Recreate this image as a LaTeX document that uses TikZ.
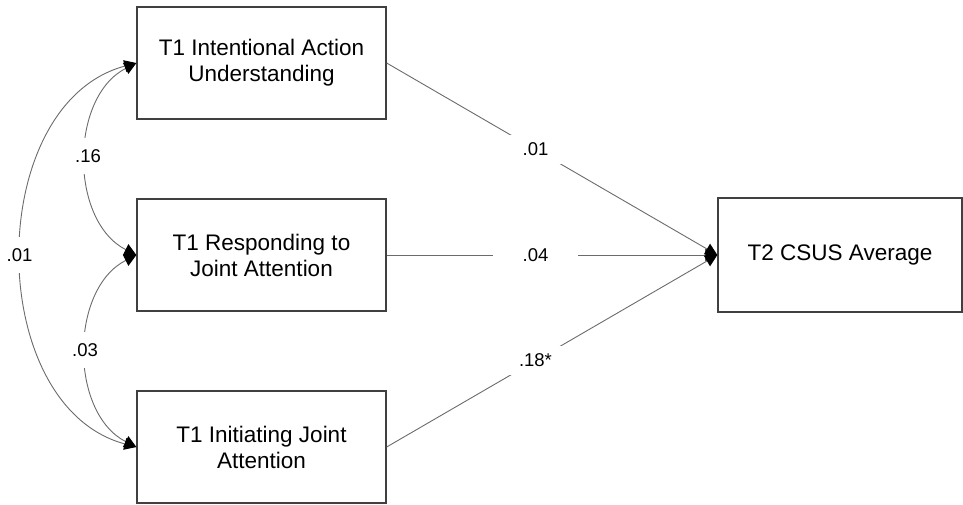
\documentclass[tikz,border=0pt]{standalone}
\usepackage{fontspec}
\setmainfont{Liberation Sans}
\usetikzlibrary{arrows.meta}
\begin{document}
\begin{tikzpicture}[x=1pt,y=-1pt,
  box/.style={draw=black!75, line width=1.3pt, minimum width=249pt, minimum height=112pt,
    align=center, font=\fontsize{22.5}{26}\selectfont, inner sep=0pt},
  conn/.style={draw=black!58, line width=0.9pt},
  onetip/.style={-{Triangle[length=12pt,width=12pt,color=black,fill=black]}},
  twotip/.style={{Triangle[length=12pt,width=12pt,color=black,fill=black]}-{Triangle[length=12pt,width=12pt,color=black,fill=black]}},
  lab/.style={fill=white, text=black, font=\fontsize{18.5}{20}\selectfont, inner xsep=3pt, inner ysep=11pt},
  dlab/.style={fill=white, text=black, font=\fontsize{18.5}{20}\selectfont, inner xsep=16pt, inner ysep=8pt}]
\useasboundingbox (0,0) rectangle (963,504);
\node[box] (a) at (261.5,63) {T1 Intentional Action\\Understanding};
\node[box] (b) at (261.5,255) {T1 Responding to\\Joint Attention};
\node[box] (c) at (261.5,447) {T1 Initiating Joint\\Attention};
\node[box, minimum width=244pt, minimum height=114pt] (d) at (840,255) {T2 CSUS Average};
% paths
\draw[conn, onetip] (a.east) -- (d.west) node[dlab, pos=0.45] {.01};
\draw[conn, onetip] (b.east) -- (d.west) node[dlab, pos=0.45, inner xsep=30pt] {.04};
\draw[conn, onetip] (c.east) -- (d.west) node[dlab, pos=0.45] {.18*};
% covariances
\draw[conn, twotip] (a.west) .. controls +(-67,34) and +(-67,-34) .. (b.west)
  node[lab, pos=0.5, xshift=2pt, yshift=3pt] {.16};
\draw[conn, twotip] (b.west) .. controls +(-67,34) and +(-67,-34) .. (c.west)
  node[lab, pos=0.5, xshift=-1pt, yshift=1pt] {.03};
\draw[conn, twotip] (a.west) .. controls +(-153,41) and +(-153,-41) .. (c.west)
  node[lab, pos=0.5, xshift=-2pt] {.01};
\end{tikzpicture}
\end{document}
